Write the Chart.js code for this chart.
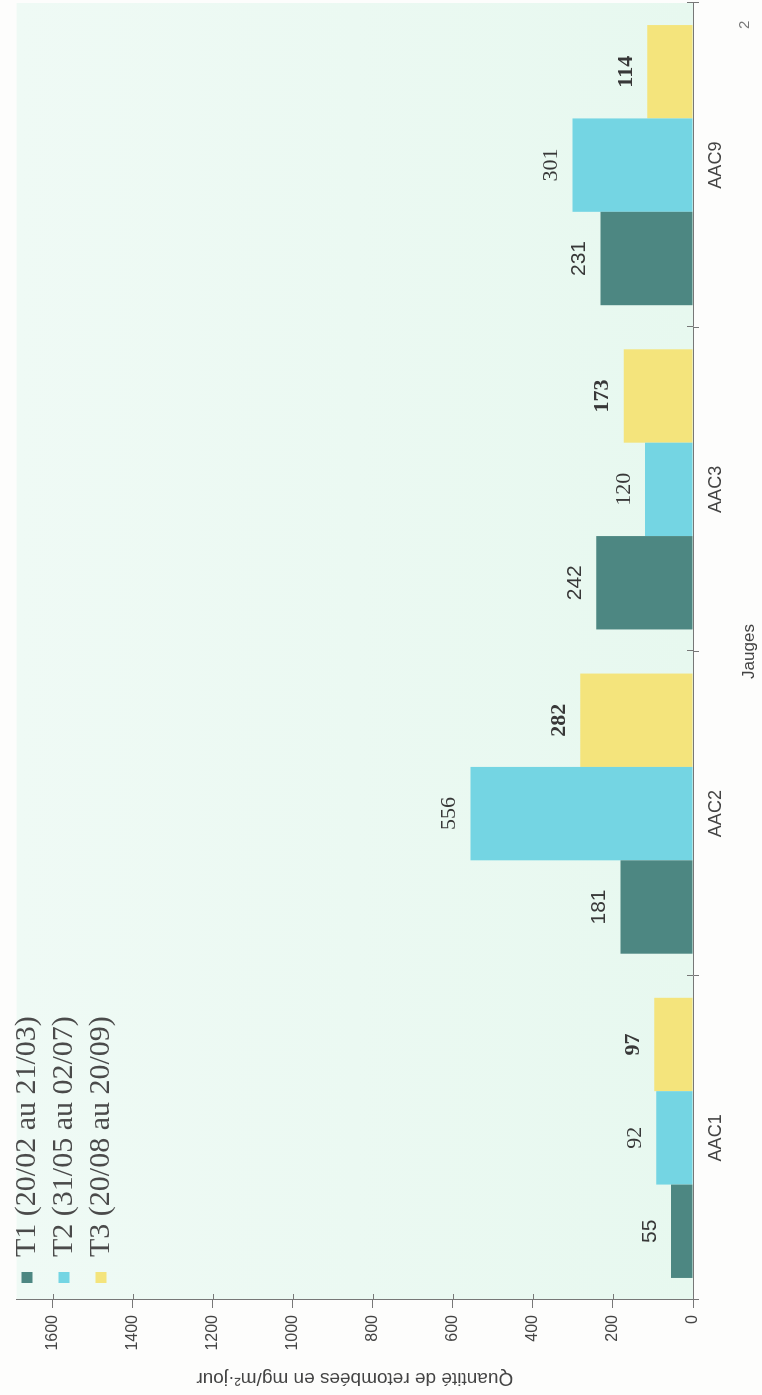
<!DOCTYPE html>
<html><head><meta charset="utf-8">
<script src="https://cdn.jsdelivr.net/npm/chart.js@4.4.1/dist/chart.umd.min.js"></script>
<style>
html,body{margin:0;padding:0;background:#fdfdfc;overflow:hidden;width:762px;height:1395px;}
#wrap{position:absolute;left:0;top:0;width:1395px;height:762px;transform-origin:0 0;transform:translate(0,1395px) rotate(-90deg);}
#page{position:absolute;left:1366px;top:735px;font:15px "Liberation Sans",sans-serif;color:#777;}
</style></head><body>
<div id="wrap"><canvas id="c" width="1395" height="762"></canvas><div id="page">2</div></div>
<script>
const categories = ['AAC1', 'AAC2', 'AAC3', 'AAC9'];
const seriesNames = ['T1 (20/02 au 21/03)', 'T2 (31/05 au 02/07)', 'T3 (20/08 au 20/09)'];
const t1Values = [55, 181, 242, 231];
const t2Values = [92, 556, 120, 301];
const t3Values = [97, 282, 173, 114];
const yTickValues = [0, 200, 400, 600, 800, 1000, 1200, 1400, 1600];
const yTitle = 'Quantité de retombées en mg/m²·jour';
const xTitle = 'Jauges';

const colors = ['#4d8782', '#74d5e3', '#f4e47c'];
const labelFonts = ['21px "Liberation Sans", sans-serif', '22px "Liberation Serif", serif', 'bold 22px "Liberation Serif", serif'];

const bgPlugin = {
  id: 'bg',
  beforeDraw(chart) {
    const {ctx, chartArea: a} = chart;
    ctx.save();
    const g = ctx.createLinearGradient(0, a.top, 0, a.bottom);
    g.addColorStop(0, '#effaf5');
    g.addColorStop(1, '#e7f8ef');
    ctx.fillStyle = g;
    ctx.fillRect(a.left, a.top, a.right - a.left, a.bottom - a.top);
    ctx.restore();
    const lg = chart.legend;
    if (lg) {
      lg.left = a.left + 10; lg.right = a.left + 440;
      lg.top = 5; lg.bottom = a.bottom;
    }
  },
  afterDraw(chart) {
    const {ctx, chartArea: a, scales} = chart;
    ctx.save();
    ctx.strokeStyle = '#777';
    ctx.lineWidth = 1;
    scales.y.ticks.forEach(t => {
      const py = Math.round(scales.y.getPixelForValue(t.value)) + 0.5;
      ctx.beginPath(); ctx.moveTo(a.left, py); ctx.lineTo(a.left + 6, py); ctx.stroke();
    });
    const n = categories.length;
    for (let i = 0; i <= n; i++) {
      const px = Math.round(a.left + (a.right - a.left) * i / n) + 0.5;
      ctx.beginPath(); ctx.moveTo(px, a.bottom); ctx.lineTo(px, a.bottom - 6); ctx.stroke();
    }
    ctx.restore();
  }
};

const labelPlugin = {
  id: 'vals',
  afterDatasetsDraw(chart) {
    const {ctx} = chart;
    ctx.save();
    ctx.textAlign = 'center';
    ctx.textBaseline = 'middle';
    chart.data.datasets.forEach((ds, di) => {
      const meta = chart.getDatasetMeta(di);
      ctx.font = labelFonts[di];
      ctx.fillStyle = '#383838';
      meta.data.forEach((el, i) => {
        ctx.fillText(String(ds.data[i]), el.x, el.y - 21);
      });
    });
    ctx.restore();
  }
};

new Chart(document.getElementById('c'), {
  type: 'bar',
  data: {
    labels: categories,
    datasets: [
      {label: seriesNames[0], data: t1Values, backgroundColor: colors[0]},
      {label: seriesNames[1], data: t2Values, backgroundColor: colors[1]},
      {label: seriesNames[2], data: t3Values, backgroundColor: colors[2]}
    ]
  },
  options: {
    responsive: false,
    animation: false,
    events: [],
    layout: {padding: {top: 15, right: 3, left: 0, bottom: 0}},
    datasets: {bar: {categoryPercentage: 0.864, barPercentage: 1.0, borderWidth: 0}},
    plugins: {
      legend: {
        position: 'chartArea',
        align: 'start',
        labels: {
          boxWidth: 11, boxHeight: 11, padding: 7,
          color: '#4a4a4a',
          font: {family: '"Liberation Serif", serif', size: 30}
        }
      },
      tooltip: {enabled: false}
    },
    scales: {
      x: {
        type: 'category',
        offset: true,
        grid: {display: true, offset: true, drawOnChartArea: false, tickLength: 6, color: '#777'},
        border: {display: true, color: '#777', width: 1},
        ticks: {color: '#444', padding: 6, font: {family: '"Liberation Sans", sans-serif', size: 18}},
        title: {display: true, text: xTitle, color: '#444', padding: {top: 0, bottom: 2},
                font: {family: '"Liberation Sans", sans-serif', size: 17}},
        afterFit(s) { s.height = 69; }
      },
      y: {
        type: 'linear',
        min: 0, max: 1690,
        ticks: {stepSize: 200, color: '#444', padding: 7,
                font: {family: '"Liberation Sans", sans-serif', size: 16},
                callback: (v) => String(v)},
        afterBuildTicks(s) { s.ticks = yTickValues.map(v => ({value: v})); },
        grid: {display: true, drawOnChartArea: false, tickLength: 8, color: '#777'},
        border: {display: true, color: '#777', width: 1},
        title: {display: true, text: yTitle, color: '#444', padding: {top: 5, bottom: 0},
                font: {family: '"Liberation Sans", sans-serif', size: 19}},
        afterFit(s) { s.width = 95; }
      }
    }
  },
  plugins: [bgPlugin, labelPlugin]
});
</script>
</body></html>
